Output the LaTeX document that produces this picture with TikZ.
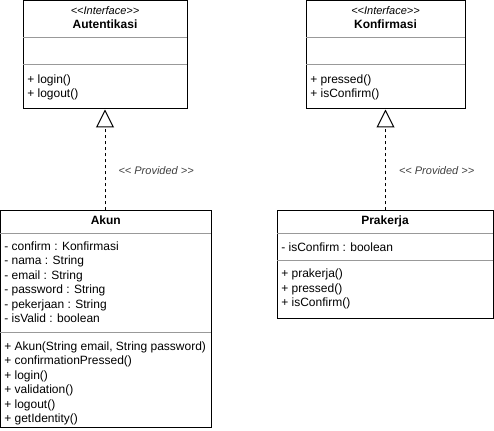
\documentclass[tikz,border=0pt]{standalone}
\usepackage{fontspec}
\setmainfont{Liberation Sans}
\usetikzlibrary{arrows.meta,fit}

\begin{document}
\begin{tikzpicture}[x=0.75pt,y=-0.75pt,
    classbox/.style={draw=black,line width=0.75pt,inner sep=0pt},
    sepline/.style={draw=black!40,line width=0.75pt},
    stereo/.style={inner sep=0pt,anchor=base,font=\fontsize{8.25}{9.9}\selectfont\itshape},
    classname/.style={inner sep=0pt,anchor=base,font=\fontsize{9}{10.8}\selectfont\bfseries},
    member/.style={inner sep=0pt,anchor=base west,align=left,font=\fontsize{9}{10.8}\selectfont},
    provline/.style={draw=black,line width=0.75pt,dash pattern=on 2.25pt off 2.25pt,
        -{Triangle[open,length=13.5pt,width=13.5pt,line width=0.75pt]}},
    provlbl/.style={inner sep=0pt,text=black!75,font=\fontsize{8.25}{9.9}\selectfont\itshape}]
\useasboundingbox (0,0) rectangle (494,431);

    % members: base west is the baseline of the last line
    \node[classbox,fit={(23,0.5) (187,109)}] (aut) {};
    \draw[sepline] (23,38) -- (187,38);
    \draw[sepline] (23,65) -- (187,65);
    \node[stereo] (autst) at (105,15) {<{}<Interface>{}>};
    \node[classname] (autnm) at (105,28.5) {Autentikasi};
    \node[member] (autop) at (27,97.5) {+ login()\\+ logout()};

    \node[classbox,fit={(306,0.5) (465,109)}] (konf) {};
    \draw[sepline] (306,38) -- (465,38);
    \draw[sepline] (306,65) -- (465,65);
    \node[stereo] (konfst) at (385.5,15) {<{}<Interface>{}>};
    \node[classname] (konfnm) at (385.5,28.5) {Konfirmasi};
    \node[member] (konfop) at (310,97.5) {+ pressed()\\+ isConfirm()};

    \node[classbox,fit={(0.5,211) (211,428)}] (akun) {};
    \draw[sepline] (0.5,234) -- (211,234);
    \draw[sepline] (0.5,333) -- (211,333);
    \node[classname] (akunnm) at (105.75,224.5) {Akun};
    \node[member] (akunat) at (4,322.5) {- confirm : Konfirmasi\\- nama : String\\- email : String\\- password : String\\- pekerjaan : String\\- isValid : boolean};
    \node[member] (akunop) at (4,422.5) {+ Akun(String email, String password)\\+ confirmationPressed()\\+ login()\\+ validation()\\+ logout()\\+ getIdentity()};

    \node[classbox,fit={(277,211) (493,319)}] (prak) {};
    \draw[sepline] (277,234) -- (493,234);
    \draw[sepline] (277,261) -- (493,261);
    \node[classname] (praknm) at (385,224.5) {Prakerja};
    \node[member] (prakat) at (281,251.5) {- isConfirm : boolean};
    \node[member] (prakop) at (281,306.5) {+ prakerja()\\+ pressed()\\+ isConfirm()};

    \draw[provline] (akun.north -| aut.south) -- (aut.south)
        node[provlbl,pos=0.4,anchor=west,xshift=9.75pt] (provA) {<{}< Provided >{}>};
    \draw[provline] (prak.north -| konf.south) -- (konf.south)
        node[provlbl,pos=0.4,anchor=west,xshift=9.75pt] (provB) {<{}< Provided >{}>};
\end{tikzpicture}
\end{document}
